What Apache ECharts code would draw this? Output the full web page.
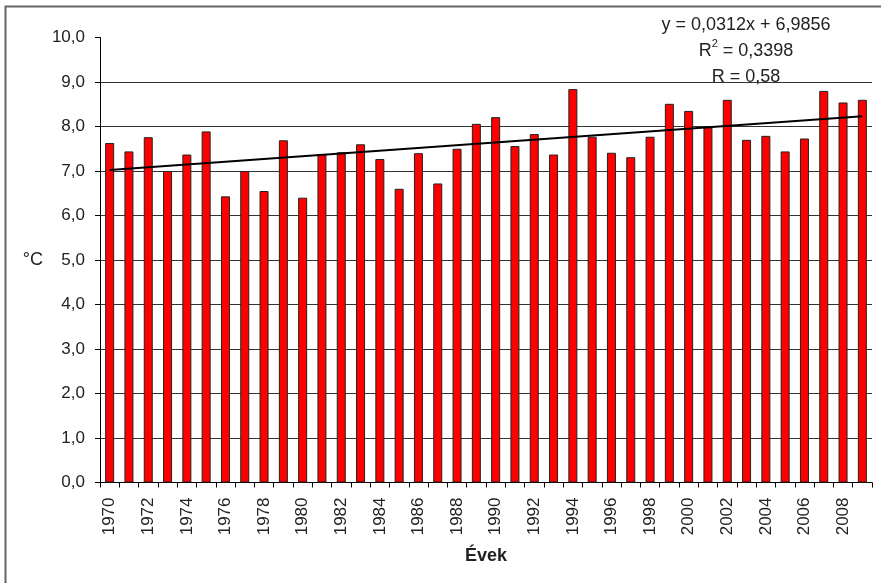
<!DOCTYPE html>
<html>
<head>
<meta charset="utf-8">
<script src="https://cdn.jsdelivr.net/npm/echarts@6/dist/echarts.min.js"></script>
<style>
  html, body { margin: 0; padding: 0; background: #fff; }
  #chart { width: 881px; height: 583px; }
</style>
</head>
<body>
<div id="chart"></div>
<script>
// évek 1970-2009
const years = [
  '1970', '1971', '1972', '1973', '1974', '1975', '1976', '1977', '1978', '1979',
  '1980', '1981', '1982', '1983', '1984', '1985', '1986', '1987', '1988', '1989',
  '1990', '1991', '1992', '1993', '1994', '1995', '1996', '1997', '1998', '1999',
  '2000', '2001', '2002', '2003', '2004', '2005', '2006', '2007', '2008', '2009',
];
// éves középhőmérséklet (°C), leolvasva
const temps = [
  7.63, 7.44, 7.76, 7.0, 7.37, 7.89, 6.43, 7.0, 6.55, 7.69,
  6.4, 7.38, 7.42, 7.6, 7.27, 6.6, 7.4, 6.72, 7.5, 8.06,
  8.21, 7.56, 7.83, 7.37, 8.84, 7.77, 7.41, 7.31, 7.77, 8.51,
  8.35, 7.98, 8.6, 7.7, 7.79, 7.44, 7.73, 8.8, 8.54, 8.6,
];
// trendvonal végpontjai
const trendYears = ['1970', '2009'];
const trendValues = [7.02, 8.23];
const yTicks = [0, 1, 2, 3, 4, 5, 6, 7, 8, 9, 10];

const font = '"Liberation Sans", Arial, sans-serif';
const myChart = echarts.init(document.getElementById('chart'));

myChart.setOption({
  animation: false,
  backgroundColor: '#fff',
  textStyle: { fontFamily: font },
  title: {
    left: 741,
    top: 7,
    textAlign: 'center',
    text: 'y = 0,0312x + 6,9856\nR{sup|2} = 0,3398\nR = 0,58',
    textStyle: {
      fontFamily: font,
      fontSize: 18,
      fontWeight: 'normal',
      color: '#222',
      lineHeight: 26,
      rich: {
        sup: { fontSize: 11, verticalAlign: 'top', lineHeight: 20, padding: [0, 0, 6, 0], color: '#222' },
      },
    },
  },
  graphic: [{
    type: 'rect',
    shape: { x: 5.5, y: 6.5, width: 880, height: 580 },
    style: { fill: 'none', stroke: '#666', lineWidth: 2 },
    silent: true,
    z: 0,
  }],
  grid: { left: 100, right: 9, top: 37.5, bottom: 100.5 },
  xAxis: {
    type: 'category',
    data: years,
    name: 'Évek',
    nameLocation: 'middle',
    nameGap: 65,
    nameTextStyle: { fontFamily: font, fontSize: 18, fontWeight: 'bold', color: '#222' },
    axisLine: { lineStyle: { color: '#000', width: 1 } },
    axisTick: { show: true, interval: 0, length: 5, lineStyle: { color: '#000' } },
    axisLabel: {
      interval: 1,
      rotate: 90,
      margin: 15,
      fontFamily: font,
      fontSize: 17,
      color: '#222',
    },
  },
  yAxis: {
    type: 'value',
    min: yTicks[0],
    max: yTicks[yTicks.length - 1],
    interval: 1,
    name: '°C',
    nameLocation: 'middle',
    nameRotate: 0,
    nameGap: 57,
    nameTextStyle: { fontFamily: font, fontSize: 18, color: '#222' },
    axisLine: { show: true, lineStyle: { color: '#000', width: 1 } },
    axisTick: { show: true, length: 5, lineStyle: { color: '#000' } },
    axisLabel: {
      margin: 15,
      fontFamily: font,
      fontSize: 17,
      color: '#222',
      formatter: (v) => v.toFixed(1).replace('.', ','),
    },
    splitLine: { show: true, showMaxLine: false, lineStyle: { color: '#333', width: 1 } },
  },
  series: [
    {
      type: 'bar',
      data: temps,
      barWidth: 9,
      itemStyle: { color: '#ff0000', borderColor: '#222', borderWidth: 1 },
      z: 2,
    },
    {
      type: 'line',
      data: trendYears.map((y, i) => [y, trendValues[i]]),
      showSymbol: false,
      lineStyle: { color: '#000', width: 2 },
      z: 3,
    },
  ],
});
</script>
</body>
</html>
